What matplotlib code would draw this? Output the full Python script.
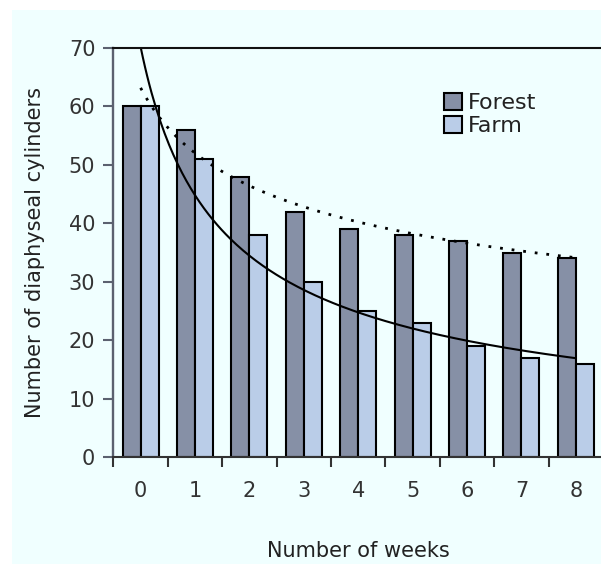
import matplotlib
matplotlib.use("Agg")
import matplotlib.pyplot as plt
import numpy as np
from matplotlib.patches import Rectangle

# values
weeks = np.arange(9)
forest = [60, 56, 48, 42, 39, 38, 37, 35, 34]
farm = [60, 51, 38, 30, 25, 23, 19, 17, 16]
week_labels = [str(w) for w in weeks]
series_names = ["Forest", "Farm"]

forest_color = "#8690a6"
farm_color = "#bacde8"
bg_color = "#f0ffff"


def power_fit(x, y):
    """Fit y = a * (x + 1) ** b in log-log space, return the fitted function."""
    b, log_a = np.polyfit(np.log(np.asarray(x) + 1), np.log(y), 1)
    return lambda t: np.exp(log_a) * (t + 1) ** b


fig = plt.figure(figsize=(6.01, 5.64), dpi=100, facecolor="white")
fig.patches.append(Rectangle((12 / 601, 0), 1, 1 - 10 / 564, transform=fig.transFigure,
                             facecolor=bg_color, edgecolor="none", zorder=-10))

ax = fig.add_axes([113.4 / 601, 107 / 564, 489.6 / 601, 409 / 564])
ax.patch.set_visible(False)

width = 0.33
ax.bar(weeks - width / 2, forest, width, color=forest_color, edgecolor="black",
       linewidth=1.5, label=series_names[0])
ax.bar(weeks + width / 2, farm, width, color=farm_color, edgecolor="black",
       linewidth=1.5, label=series_names[1])

# power-law trend lines through each series
t = np.linspace(0, 8, 200)
ax.plot(t, power_fit(weeks, farm)(t), color="black", linewidth=1.5)
ax.plot(t, power_fit(weeks, forest)(t), color="black", linewidth=2.0,
        linestyle=(0, (1, 3.2)))

ax.set_xlim(-0.5, 8.5)
ax.set_ylim(0, 70)

ax.set_yticks(range(0, 71, 10))
ax.set_xticks(np.arange(-0.5, 8.5, 1))
ax.set_xticklabels([])
ax.set_xticks(weeks, minor=True)
ax.set_xticklabels(week_labels, minor=True)

ax.tick_params(axis="y", length=7, width=1.5, color="#5b6170", pad=6,
               labelsize=15, labelcolor="#333333")
ax.tick_params(axis="x", which="major", length=7, width=1.5, color="#333333")
ax.tick_params(axis="x", which="minor", length=0, pad=17, labelsize=15,
               labelcolor="#333333")

ax.spines["right"].set_visible(False)
ax.spines["left"].set_color("#5b6170")
ax.spines["left"].set_linewidth(1.7)
ax.spines["top"].set_color("#111111")
ax.spines["top"].set_linewidth(1.5)
ax.spines["bottom"].set_color("#333333")
ax.spines["bottom"].set_linewidth(1.5)

ax.set_xlabel("Number of weeks", fontsize=15, color="#222222", labelpad=29)
ax.set_ylabel("Number of diaphyseal cylinders", fontsize=15, color="#222222",
              labelpad=17)

leg = ax.legend(loc="upper left", bbox_to_anchor=(0.652, 0.918), frameon=False,
                fontsize=16, handlelength=0.8, handleheight=0.8,
                handletextpad=0.3, labelspacing=0.12, borderpad=0)
for h in leg.legend_handles:
    h.set_edgecolor("black")
    h.set_linewidth(1.5)
for txt in leg.get_texts():
    txt.set_color("#222222")

fig.savefig("out.png", dpi=100, facecolor=fig.get_facecolor())
